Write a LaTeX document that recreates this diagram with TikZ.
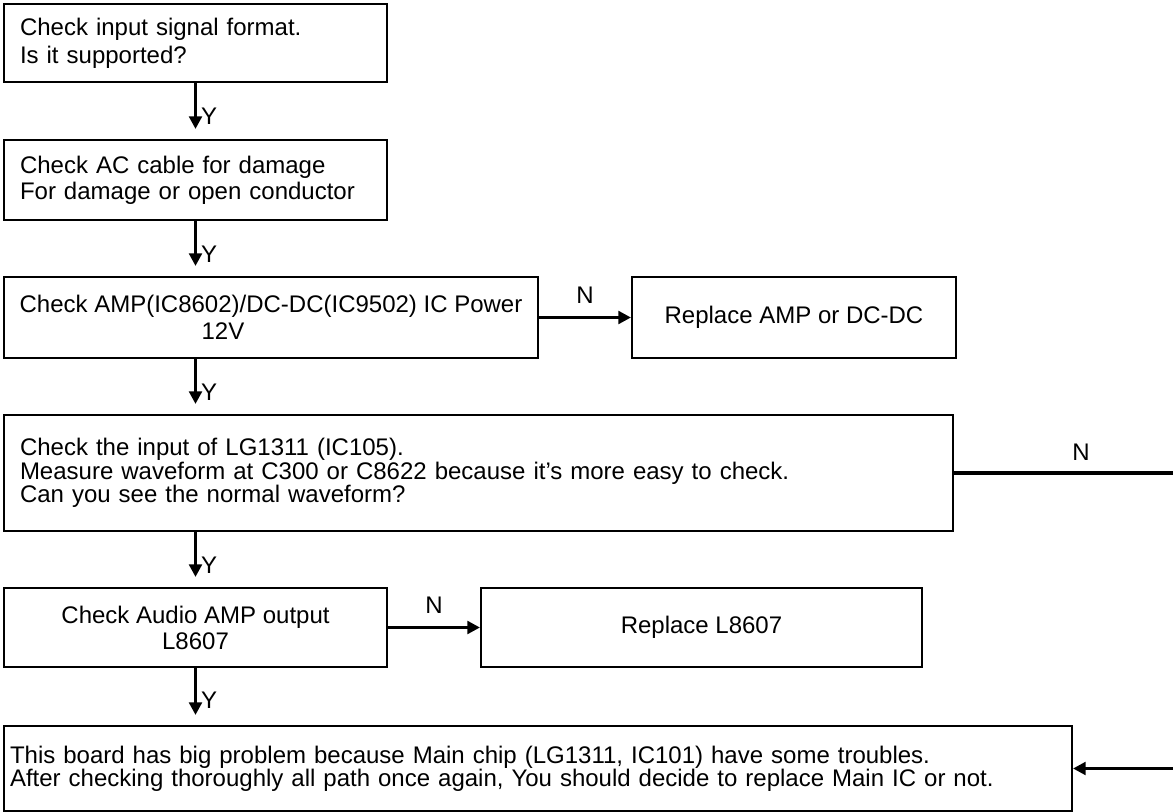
\documentclass[tikz,border=0pt]{standalone}
\usepackage{fontspec}
\setmainfont{Liberation Sans}
\usepackage{tikz}
\usetikzlibrary{positioning,calc,arrows.meta}
\definecolor{Ink}{HTML}{000000}

\tikzset{
	flowbox/.style={draw=Ink, line width=1.5pt, inner sep=0pt, text=Ink},
	leftbox/.style={flowbox, align=left, inner xsep=12pt},
	midbox/.style={flowbox, align=center},
	flowline/.style={draw=Ink, line width=2.4pt},
	flowarrow/.style={flowline, -{Triangle[length=9.5pt,width=9.5pt]}},
	answer/.style={font=\fontsize{18pt}{20pt}\selectfont, inner sep=0pt, text=Ink}
}

\begin{document}
\begin{tikzpicture}[x=0.75pt,y=-0.75pt]
	\useasboundingbox (0,0) rectangle (1173,812);
	
	% checks down the left side
	\node[
	leftbox,
	text width=263.25pt,
	minimum height=58.5pt,
	font=\fontsize{18pt}{21pt}\selectfont
	] (signal) at (195.5,43) {Check input signal format.\\Is it supported?};
	
	\node[
	leftbox,
	text width=263.25pt,
	minimum height=60pt,
	font=\fontsize{18pt}{19.5pt}\selectfont
	] (cable) at (195.5,180) {Check AC cable for damage\\For damage or open conductor};
	
	\node[
	midbox,
	minimum width=400.5pt,
	minimum height=60.75pt,
	font=\fontsize{18pt}{20pt}\selectfont
	] (power) at (271,317.5) {Check AMP(IC8602)/DC-DC(IC9502) IC Power\\12V\kern72pt};
	
	\node[
	leftbox,
	text width=687.75pt,
	minimum height=87pt,
	font=\fontsize{18pt}{16.5pt}\selectfont
	] (lgin) at (478.5,473) {Check the input of LG1311 (IC105).\\Measure waveform at C300 or C8622 because it’s more easy to check.\\Can you see the normal waveform?};
	
	\node[
	midbox,
	minimum width=287.25pt,
	minimum height=59.25pt,
	font=\fontsize{18pt}{19.5pt}\selectfont
	] (audio) at (195.5,627.5) {Check Audio AMP output\\L8607};
	
	\node[
	leftbox,
	inner xsep=4.5pt,
	text width=792pt,
	minimum height=63.75pt,
	font=\fontsize{18pt}{17.5pt}\selectfont
	] (mainic) at (538,768.5) {This board has big problem because Main chip (LG1311, IC101) have some troubles.\\After checking thoroughly all path once again, You should decide to replace Main IC or not.};
	
	% fixes on the right
	\node[
	midbox,
	minimum width=243pt,
	minimum height=60.75pt,
	font=\fontsize{18pt}{20pt}\selectfont
	] (ampfix) at (794,317.5) {Replace AMP or DC-DC};
	
	\node[
	midbox,
	minimum width=330.75pt,
	minimum height=59.25pt,
	font=\fontsize{18pt}{20pt}\selectfont
	] (lfix) at (701.5,627.5) {Replace L8607};
	
	\coordinate (lgout) at (1173,473);
	\coordinate (mainin) at (1173,768.5);
	
	% yes arrows
	\draw[flowarrow, shorten >=7.5pt] (signal) -- (cable)
		node[answer, pos=0.6, anchor=west, xshift=3pt] {Y};
	\draw[flowarrow, shorten >=7.5pt] (cable) -- (power.north -| cable)
		node[answer, pos=0.6, anchor=west, xshift=3pt] {Y};
	\draw[flowarrow, shorten >=7.5pt] (power.south -| signal) -- (lgin.north -| signal)
		node[answer, pos=0.6, anchor=west, xshift=3pt] {Y};
	\draw[flowarrow, shorten >=7.5pt] (lgin.south -| audio) -- (audio)
		node[answer, pos=0.6, anchor=west, xshift=3pt] {Y};
	\draw[flowarrow, shorten >=7.5pt] (audio) -- (mainic.north -| audio)
		node[answer, pos=0.56, anchor=west, xshift=3pt] {Y};
	
	% no arrows
	\draw[flowarrow] (power) -- (ampfix) node[answer, midway, above=9pt] {N};
	\draw[flowarrow] (audio) -- (lfix) node[answer, midway, above=9pt] {N};
	\draw[flowline] (lgin) -- (lgout) node[answer, pos=0.58, above=8pt] {N};
	\draw[flowarrow] (mainin) -- (mainic);
\end{tikzpicture}
\end{document}
